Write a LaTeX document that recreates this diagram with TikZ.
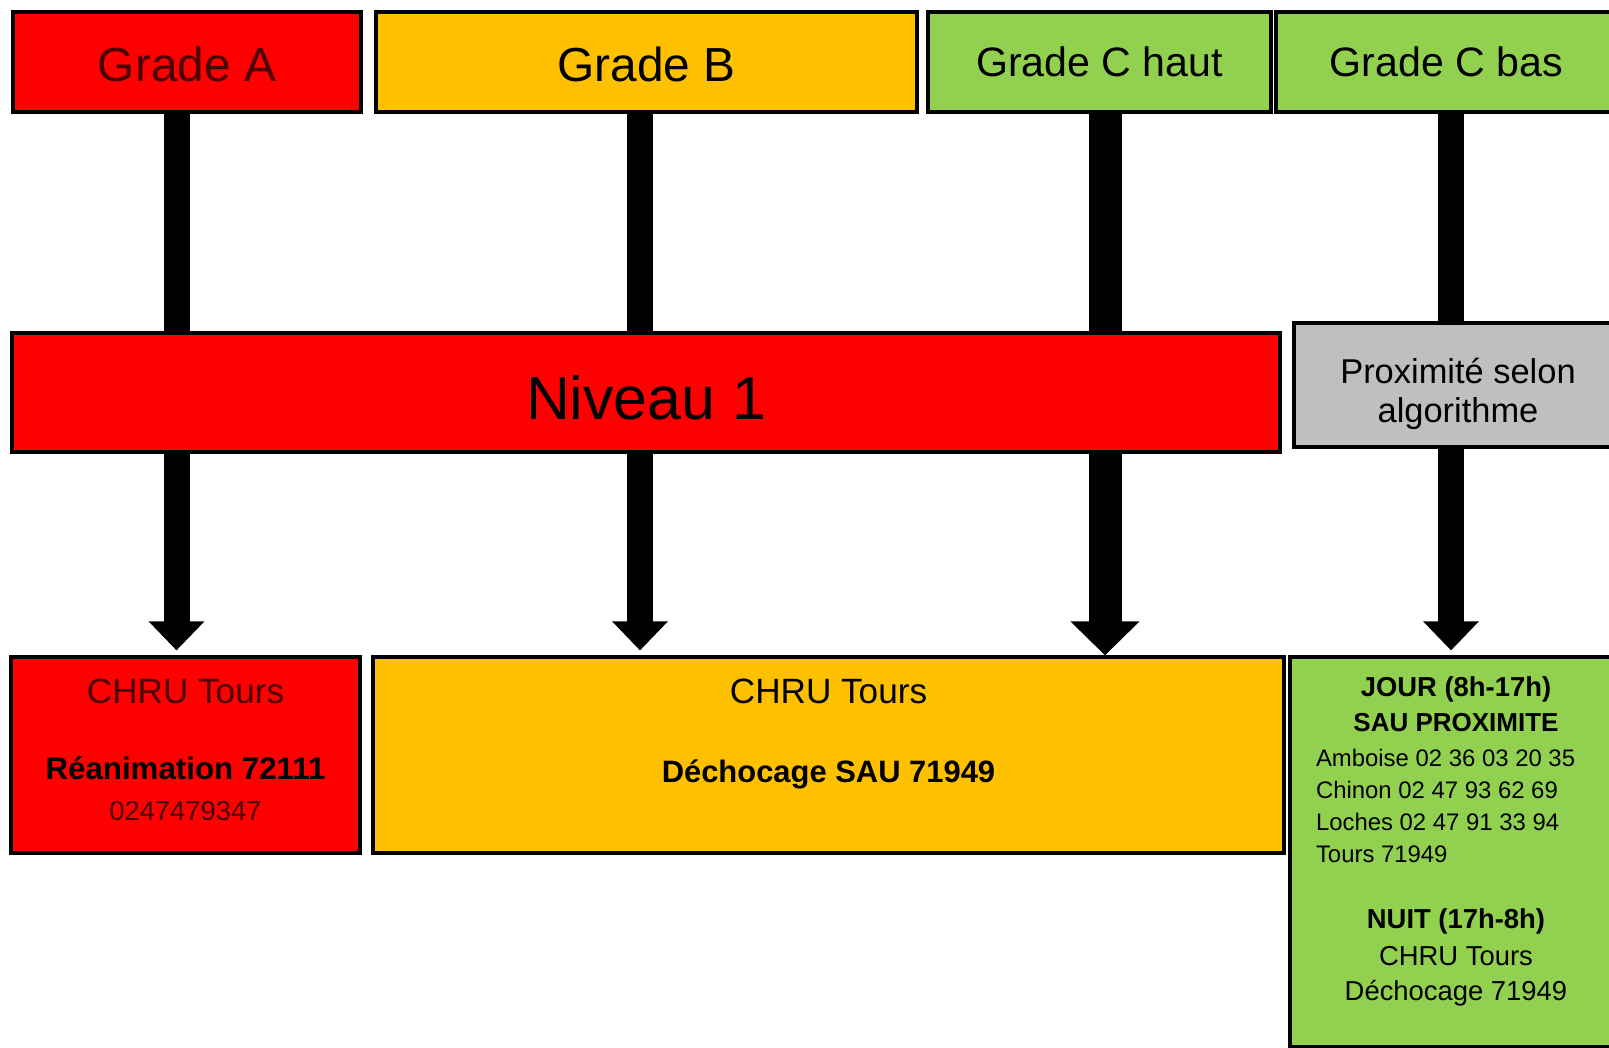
\documentclass[tikz,border=0pt]{standalone}
\usepackage{fontspec}
\setmainfont{Liberation Sans}
\usetikzlibrary{arrows.meta}
\definecolor{GradeRed}{HTML}{FF0000}
\definecolor{GradeAmber}{HTML}{FFC000}
\definecolor{GradeGreen}{HTML}{92D050}
\definecolor{GradeGray}{HTML}{BFBFBF}
\definecolor{GradeInk}{HTML}{4A0000}
\newcommand{\telline}[1]{\makebox[28mm][l]{\fontsize{6.8}{9.1}\selectfont #1}}
\tikzset{
  box/.style={draw=black,line width=0.9pt,align=center,inner sep=2pt},
  gradebox/.style={box,minimum height=10mm,font=\fontsize{13.6}{16}\selectfont},
  gradesmall/.style={gradebox,font=\fontsize{11.7}{14}\selectfont},
  levelbox/.style={box,minimum height=11.9mm},
  destbox/.style={box,minimum height=19.6mm},
  shaft/.style={line width=2.6mm,draw=black},
  down/.style={shaft,-{Triangle[width=5.4mm,length=2.9mm]},shorten >=0.5mm},
  wideshaft/.style={line width=3.3mm,draw=black},
  widedown/.style={wideshaft,-{Triangle[width=6.7mm,length=3.4mm]}}
}

\begin{document}
\begin{tikzpicture}[x=0.1mm,y=-0.1mm]
  \useasboundingbox[fill=white] (0,0) rectangle (1609,1048);
  \clip (0,0) rectangle (1609,1048);

  % grades
  \node[gradebox,fill=GradeRed,text=GradeInk,minimum width=34.8mm,text height=3.9mm] (gradeA) at (187,62) {Grade A};
  \node[gradebox,fill=GradeAmber,minimum width=54.1mm,text height=3.9mm] (gradeB) at (646.5,62) {Grade B};
  \node[gradesmall,fill=GradeGreen,minimum width=34.3mm] (gradeCh) at (1099.5,62) {Grade C haut};
  \node[gradesmall,fill=GradeGreen,minimum width=34.1mm] (gradeCb) at (1446.5,62) {Grade C bas};

  % niveau
  \node[levelbox,fill=GradeRed,minimum width=126.8mm,text height=5.4mm,font=\fontsize{17.3}{20}\selectfont] (niveau) at (646,392.5) {Niveau 1};
  \node[box,fill=GradeGray,minimum width=32.8mm,minimum height=12.4mm,text height=8.2mm,font=\fontsize{9.8}{11.1}\selectfont] (proxi) at (1458,385) {Proximité selon\\algorithme};

  % destinations
  \node[destbox,fill=GradeRed,minimum width=34.9mm,text depth=1mm,font=\fontsize{8.9}{11.7}\selectfont] (chruA) at (185.5,755)
    {{\color{GradeInk}\fontsize{10}{11.7}\selectfont CHRU Tours}\\[10pt]
     \textbf{Réanimation 72111}\\
     {\color{GradeInk}\fontsize{7.8}{11.7}\selectfont 0247479347}};
  \node[destbox,fill=GradeAmber,minimum width=91.1mm,text depth=4.8mm,font=\fontsize{8.8}{11.7}\selectfont] (chruB) at (828.5,755)
    {{\fontsize{10}{11.7}\selectfont CHRU Tours}\\[10.8pt]
     \textbf{Déchocage SAU 71949}};
  \node[box,fill=GradeGreen,minimum width=33.2mm,minimum height=39mm,text depth=2.6mm,font=\fontsize{7.8}{9.1}\selectfont] (jour) at (1456,852)
    {\textbf{JOUR (8h-17h)}\\[0.6pt]
     {\fontsize{7.4}{9.1}\selectfont\textbf{SAU PROXIMITE}}\\[0.9pt]
     \telline{Amboise 02 36 03 20 35}\\
     \telline{Chinon 02 47 93 62 69}\\
     \telline{Loches 02 47 91 33 94}\\
     \telline{Tours 71949}\\[9.9pt]
     \textbf{NUIT (17h-8h)}\\[1.4pt]
     CHRU Tours\\[0.9pt]
     Déchocage 71949};

  % arrows
  \coordinate (colA) at ([xshift=-1.05mm]gradeA.south);
  \coordinate (colB) at ([xshift=-0.65mm]gradeB.south);
  \coordinate (colCh) at ([xshift=0.55mm]gradeCh.south);
  \coordinate (colCb) at ([xshift=0.45mm]gradeCb.south);

  \draw[shaft] (colA) -- (colA |- niveau.north);
  \draw[down] (colA |- niveau.south) -- (colA |- chruA.north);
  \draw[shaft] (colB) -- (colB |- niveau.north);
  \draw[down] (colB |- niveau.south) -- (colB |- chruB.north);
  \draw[wideshaft] (colCh) -- (colCh |- niveau.north);
  \draw[widedown] (colCh |- niveau.south) -- (colCh |- chruB.north);
  \draw[shaft] (colCb) -- (colCb |- proxi.north);
  \draw[down] (colCb |- proxi.south) -- (colCb |- jour.north);
\end{tikzpicture}
\end{document}
